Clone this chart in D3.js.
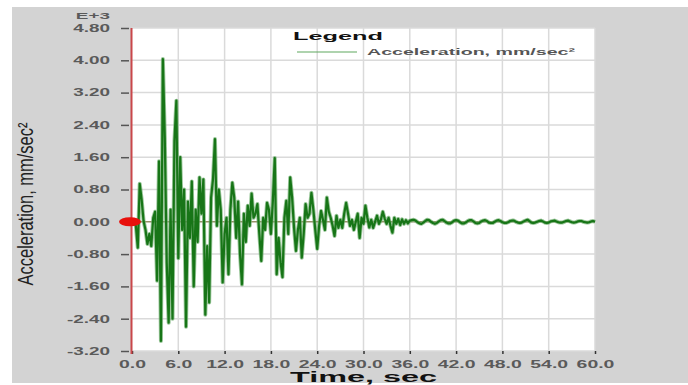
<!DOCTYPE html>
<html>
<head>
<meta charset="utf-8">
<script src="https://cdn.jsdelivr.net/npm/d3@7"></script>
<style>
  body { margin: 0; background: #fff; }
  svg { display: block; }
</style>
</head>
<body>
<div id="container"></div>
<script>
// DATA - acceleration samples every 0.25 sec (E+3 mm/sec²)
const sampleStep = 0.25;
const accelMain = [
  0, 0.02, -0.1, -0.64, 0.94, 0.55, 0.02, -0.2,
  -0.55, -0.3, -0.6, 0.1, 0.25, -1.46, 1.5, -2.95,
  4.03, 2.08, -1.0, -2.5, 0.3, -2.4, 2.0, 3.0,
  -0.9, 1.6, -0.2, 0.8, -2.6, 0.5, -0.4, 1.0,
  -1.6, 0.3, -0.5, 1.1, 0.2, 1.05, -2.3, -0.6,
  -2.0, 0.6, 1.06, 2.05, -0.1, 0.8, 0.3, -1.5,
  -0.3, 0.1, -1.3, 0.3, 0.97, 0.6, -0.4, 0.5,
  -0.8, -1.55, 0.2, -0.5, 0.4, -0.1, 0.7, 0.1,
  0.2, 0.44, -0.3, -0.97, 0.1, -0.2, 0.47, 0.3,
  -0.3, 0.5, 1.58, -1.3, -0.4, -1.0, -1.37, 0.1,
  0.52, -0.3, 1.1, 0.6, -0.15, -0.72, -0.2, 0.1,
  -0.89, -0.3, 0.44, 0.1, 0.2, 0.72, 0.3, -0.2,
  -0.67, -0.1, 0.27, 0.05, -0.2, 0.6, 0.25, 0.1,
  -0.1, -0.35, 0.15, -0.15, 0.05, -0.15, 0.2, 0.47,
  0.2, -0.1, 0.05, -0.2, 0.0, 0.2, -0.4, 0.1,
  -0.05, 0.4, 0.1, -0.14, 0.05, -0.15, 0.0, 0.15,
  -0.05, 0.05, 0.25, 0.08, -0.05, 0.1, -0.1, -0.27,
  0.1, -0.05, 0.07, -0.08, 0.06, -0.05, 0.04, -0.04,
  0.03
];
// small residual wiggle, 36.25 .. 60 sec
const accelTail = [
  0.04, 0.05, 0.03, -0.01, -0.04, -0.05, -0.02, 0.02,
  0.05, 0.04, 0.0, -0.03, -0.05, -0.03, 0.01, 0.04,
  0.05, 0.02, -0.02, -0.04, -0.04, -0.01, 0.03, 0.04,
  0.03, -0.01, -0.04, -0.04, -0.02, 0.02, 0.04, 0.04,
  0.01, -0.03, -0.04, -0.03, 0.01, 0.03, 0.04, 0.02,
  -0.02, -0.03, -0.03, 0.0, 0.03, 0.04, 0.02, -0.01,
  -0.03, -0.03, -0.01, 0.02, 0.03, 0.03, 0.0, -0.02,
  -0.03, -0.02, 0.01, 0.03, 0.05, 0.02, -0.02, -0.03,
  -0.02, 0.0, 0.02, 0.03, 0.01, -0.02, -0.03, -0.02,
  0.01, 0.02, 0.03, 0.01, -0.01, -0.02, -0.02, 0.0,
  0.02, 0.03, 0.01, -0.01, -0.02, -0.01, 0.01, 0.02,
  0.02, 0.0, -0.01, -0.02, -0.01, 0.01, 0.02, 0.0
];
const yTicks = [-3.2, -2.4, -1.6, -0.8, 0, 0.8, 1.6, 2.4, 3.2, 4.0, 4.8];
const xTicks = [0, 6, 12, 18, 24, 30, 36, 42, 48, 54, 60];
const legendLabel = "Acceleration, mm/sec²";
const yTitle = "Acceleration, mm/sec²";
const xTitle = "Time,  sec";

const series = accelMain.concat(accelTail).map((v, i) => ({ t: i * sampleStep, v: v }));

// LAYOUT
const W = 688, H = 385;
const plot = { left: 132, top: 28, right: 595, bottom: 351 };
const font = "Arial, 'Liberation Sans', sans-serif";

const x = d3.scaleLinear().domain([0, 60]).range([plot.left, plot.right]);
const y = d3.scaleLinear().domain([-3.2, 4.8]).range([plot.bottom, plot.top]);

const svg = d3.select("#container")
  .append("svg")
  .attr("width", W)
  .attr("height", H);

// grey panel + white plot
svg.append("rect")
  .attr("x", 12).attr("y", 7)
  .attr("width", W - 12).attr("height", 376)
  .attr("fill", "#d3d3d3");

svg.append("rect")
  .attr("x", plot.left).attr("y", plot.top)
  .attr("width", plot.right - plot.left).attr("height", plot.bottom - plot.top)
  .attr("fill", "#fff");

// grid
svg.append("g")
  .selectAll("line.hgrid")
  .data(yTicks)
  .enter().append("line")
  .attr("class", "hgrid")
  .attr("x1", plot.left).attr("x2", plot.right)
  .attr("y1", d => y(d)).attr("y2", d => y(d))
  .attr("stroke", "#dadada").attr("stroke-width", 1.5);

svg.append("g")
  .selectAll("line.vgrid")
  .data(xTicks.slice(1))
  .enter().append("line")
  .attr("class", "vgrid")
  .attr("x1", d => x(d)).attr("x2", d => x(d))
  .attr("y1", plot.top).attr("y2", plot.bottom)
  .attr("stroke", "#dadada").attr("stroke-width", 1.5);

// zero line
svg.append("line")
  .attr("x1", plot.left).attr("x2", plot.right)
  .attr("y1", y(0)).attr("y2", y(0))
  .attr("stroke", "#7d6f35").attr("stroke-width", 1);

// acceleration trace (soft halo + main stroke)
const line = d3.line()
  .x(d => x(d.t))
  .y(d => y(d.v));

svg.append("path")
  .datum(series)
  .attr("fill", "none")
  .attr("stroke", "#6fae6f")
  .attr("stroke-opacity", 0.7)
  .attr("stroke-width", 4)
  .attr("stroke-linejoin", "round")
  .attr("d", line);

svg.append("path")
  .datum(series)
  .attr("fill", "none")
  .attr("stroke", "#177517")
  .attr("stroke-width", 2.2)
  .attr("stroke-linejoin", "round")
  .attr("d", line);

// Y axis
const yAxisG = svg.append("g")
  .attr("transform", `translate(${plot.left}, 0)`)
  .call(d3.axisLeft(y).tickValues(yTicks).tickSize(0).tickFormat(d => d.toFixed(2)));
yAxisG.select(".domain").remove();
yAxisG.selectAll(".tick line")
  .attr("x1", -11).attr("x2", -3)
  .attr("stroke", "#555").attr("stroke-width", 1.5);
yAxisG.selectAll(".tick text")
  .attr("x", -22 / 1.8)
  .attr("transform", "scale(1.8,1)")
  .style("font-family", font)
  .style("font-size", "10.5px")
  .style("font-weight", "bold")
  .attr("fill", "#5a5a5a");

// X axis
const xAxisG = svg.append("g")
  .attr("transform", `translate(0, ${plot.bottom})`)
  .call(d3.axisBottom(x).tickValues(xTicks).tickSize(3).tickFormat(d => d.toFixed(1)));
xAxisG.select(".domain").remove();
xAxisG.selectAll(".tick line")
  .attr("stroke", "#333").attr("stroke-width", 1.5);
xAxisG.selectAll(".tick text")
  .attr("y", 9.5)
  .attr("transform", "scale(1.85,1)")
  .style("font-family", font)
  .style("font-size", "10.5px")
  .style("font-weight", "bold")
  .attr("fill", "#5a5a5a");

// red axis line + marker
svg.append("line")
  .attr("x1", plot.left - 0.5).attr("x2", plot.left - 0.5)
  .attr("y1", plot.top).attr("y2", plot.bottom + 3)
  .attr("stroke", "#c9474a").attr("stroke-width", 2);

svg.append("ellipse")
  .attr("cx", plot.left - 2).attr("cy", y(0))
  .attr("rx", 11).attr("ry", 4.5)
  .attr("fill", "#e8100c");

// exponent label
svg.append("text")
  .attr("transform", "translate(110, 19) scale(2.1,1)")
  .attr("text-anchor", "end")
  .style("font-family", font)
  .style("font-size", "9px")
  .style("font-weight", "bold")
  .attr("fill", "#5a5a5a")
  .text("E+3");

// titles
svg.append("text")
  .attr("x", 290).attr("y", 381.5)
  .attr("textLength", 147).attr("lengthAdjust", "spacingAndGlyphs")
  .style("font-family", font)
  .style("font-size", "14px")
  .style("font-weight", "bold")
  .attr("fill", "#111")
  .text(xTitle);

svg.append("text")
  .attr("transform", "translate(33, 204) scale(1.45,1) rotate(-90)")
  .attr("text-anchor", "middle")
  .attr("textLength", 163).attr("lengthAdjust", "spacingAndGlyphs")
  .style("font-family", font)
  .style("font-size", "15px")
  .attr("fill", "#222")
  .text(yTitle);

// legend
svg.append("text")
  .attr("x", 293).attr("y", 40)
  .attr("textLength", 90).attr("lengthAdjust", "spacingAndGlyphs")
  .style("font-family", font)
  .style("font-size", "11px")
  .style("font-weight", "bold")
  .attr("fill", "#111")
  .text("Legend");

svg.append("line")
  .attr("x1", 297).attr("x2", 357)
  .attr("y1", 52).attr("y2", 52)
  .attr("stroke", "#5fa85f").attr("stroke-width", 1.2);

svg.append("text")
  .attr("x", 367).attr("y", 55)
  .attr("textLength", 208).attr("lengthAdjust", "spacingAndGlyphs")
  .style("font-family", font)
  .style("font-size", "9.5px")
  .style("font-weight", "bold")
  .attr("fill", "#555")
  .text(legendLabel);
</script>
</body>
</html>
